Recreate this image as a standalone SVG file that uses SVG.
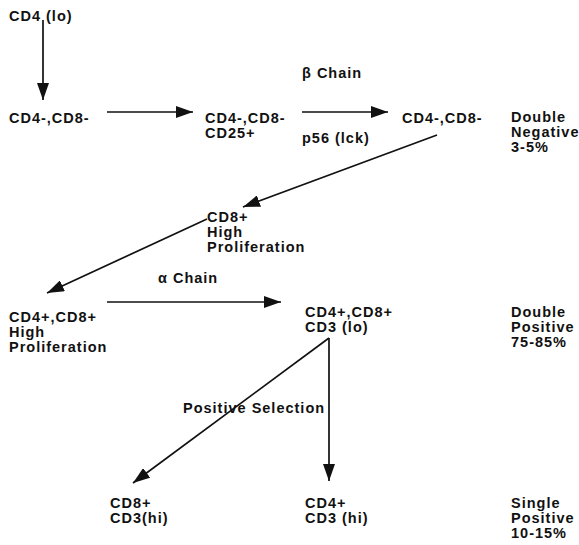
<svg xmlns="http://www.w3.org/2000/svg" width="579" height="545" viewBox="0 0 579 545">
  <style>
    text { font-family: "Liberation Sans", Arial, sans-serif; font-weight: bold; font-size: 14.5px; fill: #111; letter-spacing: 1px; }
    .edge { stroke: #111; stroke-width: 1.7; fill: none; marker-end: url(#head); }
  </style>
  <defs>
    <marker id="head" viewBox="0 0 17 12" refX="17" refY="6" markerWidth="17" markerHeight="12" markerUnits="userSpaceOnUse" orient="auto">
      <path d="M0,0 L17,6 L0,12 Z" fill="#111"/>
    </marker>
  </defs>

  <!-- connectors -->
  <g id="connectors">
    <line class="edge" x1="43" y1="20" x2="43" y2="100"/>
    <line class="edge" x1="107" y1="112" x2="193" y2="112"/>
    <line class="edge" x1="302" y1="112" x2="388" y2="112"/>
    <line class="edge" x1="437" y1="135" x2="243" y2="207"/>
    <line class="edge" x1="207" y1="219" x2="47" y2="293"/>
    <line class="edge" x1="107" y1="302" x2="281" y2="302"/>
    <line class="edge" x1="329" y1="338" x2="133" y2="483"/>
    <line class="edge" x1="329" y1="338" x2="329" y2="481"/>
  </g>

  <!-- edge labels -->
  <g id="labels">
    <text x="302" y="78">β  Chain</text>
    <text x="302" y="143">p56 (lck)</text>
    <text x="158" y="283">α  Chain</text>
    <text x="183" y="413">Positive Selection</text>
  </g>

  <!-- cell stages -->
  <g id="n-cd4lo"><text x="9" y="21">CD4 (lo)</text></g>
  <g id="n-dn1"><text x="9" y="123">CD4-,CD8-</text></g>
  <g id="n-dn2"><text x="205" y="123">CD4-,CD8-</text><text x="205" y="138">CD25+</text></g>
  <g id="n-dn3"><text x="402" y="123">CD4-,CD8-</text></g>
  <g id="n-cd8isp"><text x="207" y="222">CD8+</text><text x="207" y="237">High</text><text x="207" y="252">Proliferation</text></g>
  <g id="n-dp-high"><text x="9" y="322">CD4+,CD8+</text><text x="9" y="337">High</text><text x="9" y="352">Proliferation</text></g>
  <g id="n-dp-lo"><text x="305" y="317">CD4+,CD8+</text><text x="305" y="332">CD3 (lo)</text></g>
  <g id="n-cd8sp"><text x="110" y="508">CD8+</text><text x="110" y="523">CD3(hi)</text></g>
  <g id="n-cd4sp"><text x="305" y="508">CD4+</text><text x="305" y="523">CD3 (hi)</text></g>

  <!-- stage summaries -->
  <g id="stage-dn"><text x="511" y="122">Double</text><text x="511" y="137" letter-spacing="0.4">Negative</text><text x="511" y="152">3-5%</text></g>
  <g id="stage-dp"><text x="511" y="317">Double</text><text x="511" y="332">Positive</text><text x="511" y="347">75-85%</text></g>
  <g id="stage-sp"><text x="511" y="508">Single</text><text x="511" y="523">Positive</text><text x="511" y="538">10-15%</text></g>
</svg>
